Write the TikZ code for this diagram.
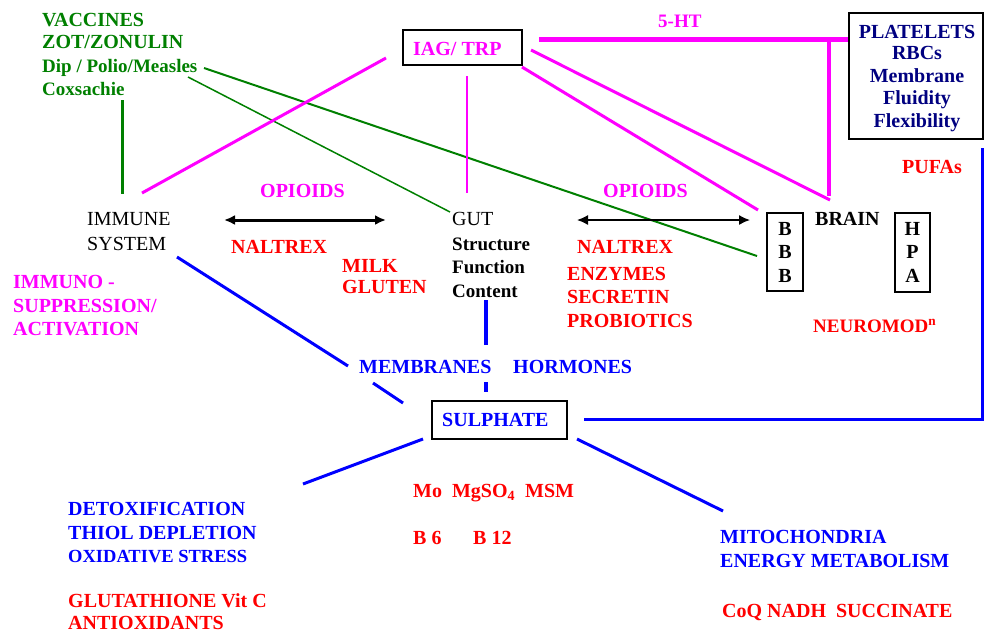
\documentclass[tikz,border=0pt]{standalone}
\usepackage{fontspec}
\setmainfont{Liberation Serif}
\usetikzlibrary{arrows.meta}
\definecolor{mag}{RGB}{255,0,255}
\definecolor{grn}{RGB}{0,128,0}
\definecolor{blu}{RGB}{0,0,255}
\definecolor{rd}{RGB}{255,0,0}
\definecolor{nvy}{RGB}{0,0,128}
\begin{document}
\begin{tikzpicture}[x=1pt,y=-1pt,
  t/.style={inner sep=0pt, anchor=base west, font=\bfseries\fontsize{20}{24}\selectfont},
  ts/.style={t, font=\bfseries\fontsize{19}{22}\selectfont},
  tc/.style={t, anchor=base},
  tr/.style={inner sep=0pt, anchor=base west, font=\fontsize{20}{24}\selectfont},
  boxn/.style={draw=black, line width=2pt, inner sep=0pt},
  gline/.style={grn, line width=2pt},
  mline/.style={mag, line width=3pt},
  bline/.style={blu, line width=3pt},
  dbl/.style={black, {Latex[length=11pt,width=10pt]}-{Latex[length=11pt,width=10pt]}}
]
\useasboundingbox[fill=white] (0,0) rectangle (984,633);

% ---- boxes ----
\node[boxn, minimum width=119pt, minimum height=35pt] (iag) at (462.5,47.5) {};
\node[boxn, minimum width=135pt, minimum height=38pt] (sulph) at (499.5,420) {};
\node[boxn, line width=1.5pt, minimum width=36pt, minimum height=78pt] (bbb) at (785,252) {};
\node[boxn, line width=1.5pt, minimum width=35pt, minimum height=79pt] (hpa) at (912.5,252.5) {};
\node[boxn, minimum width=134pt, minimum height=126pt] (plat) at (915.5,76) {};

% ---- green texts ----
\node[t, grn] (vacc) at (42,26) {VACCINES};
\node[t, grn] (zot) at (42,48) {ZOT/ZONULIN};
\node[ts, grn] (dip) at (42,72) {Dip / Polio/Measles};
\node[ts, grn] (cox) at (42,95) {Coxsachie};

% ---- magenta texts ----
\node[t, mag] (iagt) at (413,55) {IAG/ TRP};
\node[ts, mag] (fiveht) at (658,27) {5-HT};
\node[t, mag] (op1) at (260,197) {OPIOIDS};
\node[t, mag] (op2) at (603,197) {OPIOIDS};
\node[t, mag] (imm1) at (13,288) {IMMUNO -};
\node[t, mag] (imm2) at (13,312) {SUPPRESSION/};
\node[t, mag] (imm3) at (13,335) {ACTIVATION};

% ---- black texts ----
\node[tr] (immune) at (87,225) {IMMUNE};
\node[tr] (system) at (87,250) {SYSTEM};
\node[tr] (gut) at (452,225) {GUT};
\node[ts] (struct) at (452,250) {Structure};
\node[ts] (func) at (452,273) {Function};
\node[ts] (cont) at (452,297) {Content};
\node[t] (brain) at (815,225) {BRAIN};
\node[tc] (b1) at (785,235) {B};
\node[tc] (b2) at (785,258) {B};
\node[tc] (b3) at (785,282) {B};
\node[tc] (h1) at (912.5,235) {H};
\node[tc] (h2) at (912.5,258) {P};
\node[tc] (h3) at (912.5,282) {A};

% ---- navy platelets ----
\node[tc, nvy] (pl1) at (917,38) {PLATELETS};
\node[tc, nvy] (pl2) at (917,59) {RBCs};
\node[tc, nvy] (pl3) at (917,82) {Membrane};
\node[tc, nvy] (pl4) at (917,104) {Fluidity};
\node[tc, nvy] (pl5) at (917,127) {Flexibility};

% ---- red texts ----
\node[t, rd] (nal1) at (231,253) {NALTREX};
\node[t, rd] (nal2) at (577,253) {NALTREX};
\node[t, rd] (milk) at (342,272) {MILK};
\node[t, rd] (glut) at (342,293) {GLUTEN};
\node[t, rd] (enz) at (567,280) {ENZYMES};
\node[t, rd] (secr) at (567,303) {SECRETIN};
\node[t, rd] (prob) at (567,327) {PROBIOTICS};
\node[ts, rd] (neuro) at (813,332) {NEUROMOD\textsuperscript{n}};
\node[t, rd] (pufa) at (902,173) {PUFAs};
\node[t, rd] (mo) at (413,497) {Mo\ \ MgSO\textsubscript{4}\ \ MSM};
\node[t, rd] (b6) at (413,544) {B 6};
\node[t, rd] (b12) at (473,544) {B 12};
\node[t, rd] (gsh) at (68,607) {GLUTATHIONE Vit C};
\node[t, rd] (antiox) at (68,629) {ANTIOXIDANTS};
\node[t, rd] (coq) at (722,617) {CoQ NADH\ \ SUCCINATE};

% ---- blue texts ----
\node[t, blu] (memb) at (359,373) {MEMBRANES};
\node[t, blu] (horm) at (513,373) {HORMONES};
\node[t, blu] (sulpht) at (442,426) {SULPHATE};
\node[t, blu] (detox) at (68,515) {DETOXIFICATION};
\node[t, blu] (thiol) at (68,539) {THIOL DEPLETION};
\node[t, blu, font=\bfseries\fontsize{18.5}{22}\selectfont] (oxid) at (68,562) {OXIDATIVE STRESS};
\node[t, blu] (mito) at (720,543) {MITOCHONDRIA};
\node[t, blu] (energy) at (720,567) {ENERGY METABOLISM};

% ---- coordinates for connector ends ----
\coordinate (g1a) at (204,68);  \coordinate (g1b) at (757,256);
\coordinate (g2a) at (188,77);  \coordinate (g2b) at (450,212);
\coordinate (g3a) at (122,100); \coordinate (g3b) at (122,194);
\coordinate (m1a) at (142,193); \coordinate (m1b) at (386,58);
\coordinate (m2a) at (467,76);  \coordinate (m2b) at (467,193);
\coordinate (m3a) at (539,39);  \coordinate (m3b) at (848,39);
\coordinate (m4a) at (829,39);  \coordinate (m4b) at (829,196);
\coordinate (m5a) at (531,50);  \coordinate (m5b) at (830,200);
\coordinate (m6a) at (522,67);  \coordinate (m6b) at (758,210);
\coordinate (b1a) at (177,257); \coordinate (b1b) at (348,366);
\coordinate (b1c) at (373,383); \coordinate (b1d) at (403,403);
\coordinate (b2a) at (486,300); \coordinate (b2b) at (486,345);
\coordinate (b2c) at (486,382); \coordinate (b2d) at (486,392);
\coordinate (b3a) at (584,419); \coordinate (b3b) at (982,419); \coordinate (b3c) at (982,148);
\coordinate (b4a) at (423,439); \coordinate (b4b) at (303,484);
\coordinate (b5a) at (577,439); \coordinate (b5b) at (723,511);
\coordinate (a1a) at (224,220); \coordinate (a1b) at (386,220);
\coordinate (a2a) at (577,220); \coordinate (a2b) at (750,220);

% ---- green connectors ----
\draw[gline] (g1a) -- (g1b);
\draw[gline, line width=1.5pt] (g2a) -- (g2b);
\draw[gline, line width=3pt] (g3a) -- (g3b);

% ---- magenta connectors ----
\draw[mline] (m1a) -- (m1b);
\draw[mline, line width=2pt] (m2a) -- (m2b);
\draw[mline, line width=5pt] (m3a) -- (m3b);
\draw[mline, line width=4pt] (m4a) -- (m4b);
\draw[mline] (m5a) -- (m5b);
\draw[mline] (m6a) -- (m6b);

% ---- blue connectors ----
\draw[bline] (b1a) -- (b1b);
\draw[bline] (b1c) -- (b1d);
\draw[bline, line width=4pt] (b2a) -- (b2b);
\draw[bline, line width=4pt] (b2c) -- (b2d);
\draw[bline] (b3a) -- (b3b) -- (b3c);
\draw[bline] (b4a) -- (b4b);
\draw[bline] (b5a) -- (b5b);

% ---- black arrows ----
\draw[dbl, line width=3pt] (a1a) -- (a1b);
\draw[dbl, line width=1.5pt] (a2a) -- (a2b);
\end{tikzpicture}
\end{document}
